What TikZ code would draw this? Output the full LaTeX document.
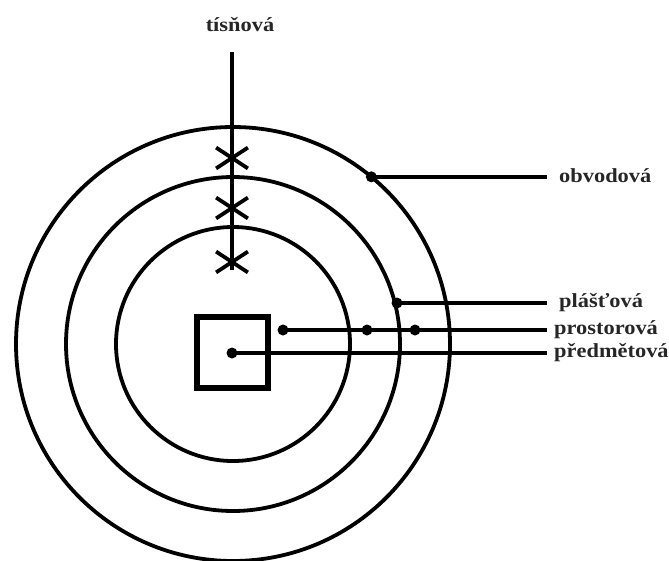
\documentclass[tikz,border=0pt]{standalone}
\usepackage{fontspec}
\setmainfont{Liberation Serif}
\usetikzlibrary{shapes.misc,calc}
\newcommand{\widetxt}[1]{\scalebox{1.12}[1]{#1}}
\begin{document}
\begin{tikzpicture}[x=1pt,y=-1pt,
  ring/.style={line width=3.8pt},
  conn/.style={line width=3.4pt},
  dotnode/.style={circle,fill=black,inner sep=0pt,minimum size=11pt},
  xmark/.style={cross out,draw=black,line width=3.8pt,inner sep=0pt,minimum width=28pt,minimum height=17pt},
  lbl/.style={font=\fontsize{20}{22}\selectfont\bfseries,text=black!85,inner sep=0pt},
  boxnode/.style={draw=black,line width=5.5pt,minimum size=71pt,inner sep=0pt}]
\useasboundingbox (0,0) rectangle (669,560);
\coordinate (c) at (233,344);
% rings
\draw[ring] (c) circle[radius=217];
\draw[ring] (c) circle[radius=167];
\draw[ring] (c) circle[radius=117];
% object box
\node[boxnode] (box) at (232.5,352.5) {};
% labels
\node[lbl] (tis) at (240,25) {\widetxt{tísňová}};
\node[lbl,anchor=west] (obv) at (559,176) {\widetxt{obvodová}};
\node[lbl,anchor=west] (pla) at (559,303) {\widetxt{plášťová}};
\node[lbl,anchor=west] (pro) at (554,330) {\widetxt{prostorová}};
\node[lbl,anchor=west] (pre) at (554,353) {\widetxt{předmětová}};
% emergency line with marks
\coordinate (tistop) at (232,52);
\coordinate (tisend) at (232,270);
\draw[conn] (tistop) -- (tisend);
\node[xmark] (x1) at (232,158) {};
\node[xmark] (x2) at (232,208) {};
\node[xmark] (x3) at (232,262) {};
% dots
\node[dotnode] (dobv) at ($(c)+(-50.4:217)$) {};
\node[dotnode] (dpla) at (397,303) {};
\node[dotnode] (dpro1) at (283,330) {};
\node[dotnode] (dpro2) at (367,330) {};
\node[dotnode] (dpro3) at (415,330) {};
\node[dotnode] (dpre) at (232,353) {};
% connectors (end just short of the labels)
\draw[conn] (dobv.center) -- ([xshift=-12pt]dobv.center -| obv.west);
\draw[conn] (dpla.center) -- ([xshift=-12pt]dpla.center -| pla.west);
\draw[conn] (dpro1.center) -- ([xshift=-7pt]dpro1.center -| pro.west);
\draw[conn] (dpre.center) -- ([xshift=-7pt]dpre.center -| pre.west);
\end{tikzpicture}
\end{document}
